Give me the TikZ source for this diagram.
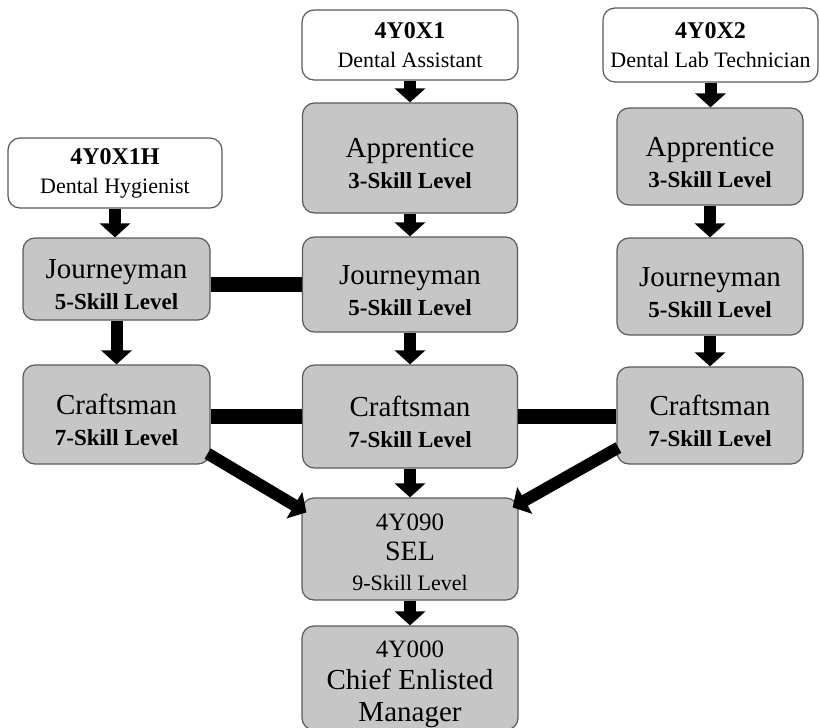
\documentclass[tikz,border=0pt]{standalone}
\usepackage{fontspec}
\setmainfont{Liberation Serif}
\usetikzlibrary{arrows.meta,calc}
\definecolor{boxgray}{HTML}{C6C6C6}
\definecolor{boxedge}{HTML}{5A5A5A}
\newcommand{\ttl}[1]{{\fontsize{29}{31}\selectfont #1}}
\newcommand{\skl}[1]{{\fontsize{23}{31}\selectfont\bfseries #1}}
\newcommand{\cde}[1]{{\fontsize{24}{29}\selectfont\bfseries #1}}
\newcommand{\dsc}[1]{{\fontsize{22}{29}\selectfont #1}}
\newcommand{\gtxt}[2][9pt]{\raisebox{-#1}[\height][\depth]{\begin{tabular}{@{}c@{}}#2\end{tabular}}}
\tikzset{
  gbox/.style={rounded corners=12pt, fill=boxgray, draw=boxedge, line width=1.2pt, inner sep=0pt, font=\fontsize{29}{31}\selectfont},
  wbox/.style={rounded corners=12pt, fill=white, draw=boxedge, line width=1.2pt, align=center, inner sep=0pt, font=\fontsize{24}{29}\selectfont},
  arr/.style={line width=12pt, -{Triangle[width=30pt,length=14pt]}},
  bar/.style={line width=15pt}
}
\begin{document}
\begin{tikzpicture}[x=1pt,y=-1pt]
\useasboundingbox (0,0) rectangle (820,728);
% left column
\node[wbox, minimum width=214pt, minimum height=70pt] (hw) at (115,173) {\cde{4Y0X1H}\\\dsc{Dental Hygienist}};
\node[gbox, minimum width=187pt, minimum height=82pt] (jl) at (116.5,279) {\gtxt{\ttl{Journeyman}\\\skl{5-Skill Level}}};
\node[gbox, minimum width=187pt, minimum height=99pt] (cl) at (116.5,414.5) {\gtxt{\ttl{Craftsman}\\\skl{7-Skill Level}}};
% center column
\node[wbox, minimum width=216pt, minimum height=70pt] (aw) at (410,45) {\cde{4Y0X1}\\\dsc{Dental Assistant}};
\node[gbox, minimum width=215pt, minimum height=110pt] (ac) at (410,158) {\gtxt{\ttl{Apprentice}\\\skl{3-Skill Level}}};
\node[gbox, minimum width=215pt, minimum height=95pt] (jc) at (410,284.5) {\gtxt{\ttl{Journeyman}\\\skl{5-Skill Level}}};
\node[gbox, minimum width=215pt, minimum height=103pt] (cc) at (410,416.5) {\gtxt{\ttl{Craftsman}\\\skl{7-Skill Level}}};
\node[gbox, minimum width=216pt, minimum height=102pt, font=\fontsize{25}{30}\selectfont] (sel) at (410,549) {\gtxt[5pt]{{\fontsize{25}{30}\selectfont 4Y090}\\{\fontsize{28}{30}\selectfont SEL}\\{\fontsize{22}{30}\selectfont 9-Skill Level}}};
\node[gbox, minimum width=216pt, minimum height=104pt, font=\fontsize{29}{32}\selectfont] (ch) at (410,678) {\gtxt[5pt]{{\fontsize{25}{32}\selectfont 4Y000}\\Chief Enlisted\\Manager}};
% right column
\node[wbox, minimum width=215pt, minimum height=74pt] (tw) at (710.5,45) {\cde{4Y0X2}\\\dsc{Dental Lab Technician}};
\node[gbox, minimum width=186pt, minimum height=97pt] (ar) at (710,156.5) {\gtxt{\ttl{Apprentice}\\\skl{3-Skill Level}}};
\node[gbox, minimum width=186pt, minimum height=97pt] (jr) at (710,286.5) {\gtxt{\ttl{Journeyman}\\\skl{5-Skill Level}}};
\node[gbox, minimum width=186pt, minimum height=97pt] (cr) at (710,415.5) {\gtxt{\ttl{Craftsman}\\\skl{7-Skill Level}}};
% vertical arrows
\draw[arr] (hw.south) -- (hw.south |- jl.north);
\draw[arr] (jl.south) -- (cl.north);
\draw[arr] (aw.south) -- (ac.north);
\draw[arr] (ac.south) -- (jc.north);
\draw[arr] (jc.south) -- (cc.north);
\draw[arr] (cc.south) -- (sel.north);
\draw[arr] (sel.south) -- (ch.north);
\draw[arr] (tw.south) -- (tw.south |- ar.north);
\draw[arr] (ar.south) -- (jr.north);
\draw[arr] (jr.south) -- (cr.north);
% horizontal bars
\draw[bar] (jl.east |- jc.west) -- (jc.west);
\draw[bar] (cl.east |- cc.west) -- (cc.west);
\draw[bar] (cc.east) -- (cr.west |- cc.east);
% diagonal arrows
\draw[arr] ($(cl.south east)+(-3,-11)$) -- ($(sel.north west)+(5,15)$);
\draw[arr] ($(cr.south west)+(2,-17)$) -- ($(sel.north east)+(-6,10)$);
\end{tikzpicture}
\end{document}
